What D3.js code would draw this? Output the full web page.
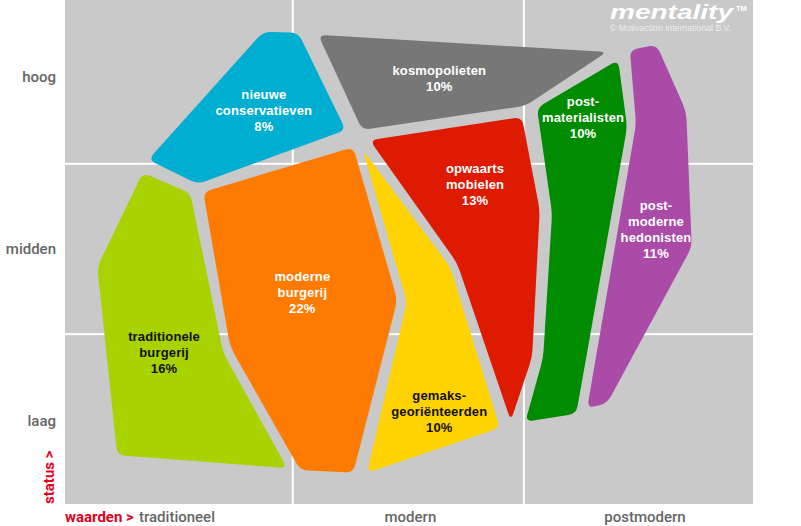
<!DOCTYPE html>
<html><head><meta charset="utf-8">
<script src="https://cdn.jsdelivr.net/npm/d3@7"></script>
<style>html,body{margin:0;padding:0;background:#fff;}svg{display:block;}</style>
</head><body>
<svg id="chart" width="801" height="526"></svg>
<script>
// ---- data (value axis 0-100: traditioneel -> postmodern; status axis 0-100: laag -> hoog)
const valueLabels = ["traditioneel", "modern", "postmodern"];
const statusLabels = ["laag", "midden", "hoog"];
const valueBreaks = [0, 33.1, 66.7, 100];
const statusBreaks = [0, 33.7, 67.5, 100];
const statusLabelPos = [16.4, 50.6, 84.7];
const valueLabelPos = [null, 50.2, 84.3];

const segmentNames = [
  "traditionele\nburgerij",
  "moderne\nburgerij",
  "nieuwe\nconservatieven",
  "kosmopolieten",
  "opwaarts\nmobielen",
  "gemaks-\ngeoriënteerden",
  "post-\nmaterialisten",
  "post-\nmoderne\nhedonisten"
];
const segmentShares = [16, 22, 8, 10, 13, 10, 10, 11];
const segmentShapes = [
  [[11.3,65.7],[18.2,61.7],[23.0,30.0],[32.3,7.1],[7.6,9.7],[4.7,47.0]],
  [[20.1,61.9],[41.9,70.8],[48.3,40.5],[41.9,6.2],[34.2,6.7],[24.0,31.2]],
  [[28.8,93.7],[33.9,93.5],[40.8,74.2],[19.3,63.5],[12.1,68.3]],
  [[36.8,93.1],[78.8,89.7],[66.9,79.0],[43.2,74.2]],
  [[44.3,72.2],[66.4,76.8],[69.0,58.3],[67.9,29.2],[64.8,16.5],[57.0,47.8]],
  [[43.3,70.2],[56.0,47.0],[63.2,15.1],[43.9,6.2],[49.7,40.1]],
  [[68.6,78.6],[80.4,88.1],[81.7,74.8],[74.3,17.9],[66.9,16.3],[69.5,29.0],[70.8,57.7]],
  [[82.1,90.1],[86.0,91.1],[90.3,77.8],[91.1,51.0],[78.8,20.0],[75.9,19.0],[83.0,75.4]]
];
const labelCenters = [
  [14.4,30.2],[34.5,42.1],[28.9,78.2],[54.4,84.6],[59.6,63.5],[54.4,18.5],[75.3,76.8],[85.9,54.6]
];
const segmentColors = ["#a8d200","#ff7b00","#00aed1","#777777","#de1a00","#ffd300","#008b00","#aa4ba8"];
const labelColors = ["#111","#fff","#fff","#fff","#fff","#111","#fff","#fff"];

// ---- drawing
const svg = d3.select("#chart");
const x = d3.scaleLinear().domain([0,100]).range([65,753]);
const y = d3.scaleLinear().domain([0,100]).range([504,0]);

// background panels
const cells = [];
for (let i=0;i<3;i++) for (let j=0;j<3;j++) cells.push({i,j});
svg.append("g").selectAll("rect").data(cells).join("rect")
  .attr("x", d => x(valueBreaks[d.i]) + (d.i>0?1:0))
  .attr("width", d => x(valueBreaks[d.i+1]) - x(valueBreaks[d.i]) - (d.i>0?1:0) - (d.i<2?1:0))
  .attr("y", d => y(statusBreaks[d.j+1]) + (d.j<2?1:0))
  .attr("height", d => y(statusBreaks[d.j]) - y(statusBreaks[d.j+1]) - (d.j<2?1:0) - (d.j>0?1:0))
  .attr("fill", "#c9c9c9");

function roundedPath(pts, r) {
  const n = pts.length; const p = d3.path();
  for (let i=0;i<n;i++){
    const p0 = pts[(i-1+n)%n], p1 = pts[i], p2 = pts[(i+1)%n];
    const v1 = [p0[0]-p1[0], p0[1]-p1[1]], v2 = [p2[0]-p1[0], p2[1]-p1[1]];
    const l1 = Math.hypot(v1[0],v1[1]), l2 = Math.hypot(v2[0],v2[1]);
    const rr = Math.min(r, l1/2.2, l2/2.2);
    const a = [p1[0]+v1[0]/l1*rr, p1[1]+v1[1]/l1*rr];
    const b = [p1[0]+v2[0]/l2*rr, p1[1]+v2[1]/l2*rr];
    if (i===0) p.moveTo(a[0],a[1]); else p.lineTo(a[0],a[1]);
    p.quadraticCurveTo(p1[0],p1[1],b[0],b[1]);
  }
  p.closePath();
  return p.toString();
}

svg.append("g").selectAll("path").data(segmentShapes).join("path")
  .attr("d", pts => roundedPath(pts.map(v => [x(v[0]), y(v[1])]), 8))
  .attr("fill", (d,i) => segmentColors[i]);

// segment labels
const lab = svg.append("g").attr("font-family","'Liberation Sans', Arial, sans-serif")
  .attr("font-weight","bold").attr("font-size","13px").attr("text-anchor","middle");
segmentNames.forEach((name,i) => {
  const lines = name.split("\n").concat([segmentShares[i] + "%"]);
  const cx = x(labelCenters[i][0]), cy = y(labelCenters[i][1]);
  const lh = 16;
  const t = lab.append("text").attr("fill", labelColors[i]).attr("letter-spacing","0.15px");
  lines.forEach((ln,k) => {
    t.append("tspan").attr("x", cx).attr("y", cy + (k - (lines.length-1)/2)*lh + 5).text(ln);
  });
});

// status axis labels
const axisFont = "Roboto, 'Open Sans', sans-serif";
svg.append("g").selectAll("text").data(statusLabels).join("text")
  .attr("x", 56).attr("y", (d,i) => y(statusLabelPos[i]) + 5)
  .attr("text-anchor","end").attr("font-family",axisFont).attr("font-weight",500)
  .attr("font-size","15px").attr("fill","#666").text(d => d);

// value axis labels
svg.append("text").attr("x", 65).attr("y", 522).attr("font-family",axisFont)
  .attr("font-weight",700).attr("font-size","15px").attr("fill","#e2001a").text("waarden >");
svg.append("g").selectAll("text").data(valueLabels).join("text")
  .attr("x", (d,i) => i===0 ? 139 : x(valueLabelPos[i]))
  .attr("y", 522)
  .attr("text-anchor", (d,i) => i===0 ? "start" : "middle")
  .attr("font-family",axisFont).attr("font-weight",500).attr("font-size","15px")
  .attr("fill","#666").text(d => d);

svg.append("text").attr("transform","translate(54,504) rotate(-90)")
  .attr("font-family",axisFont).attr("font-weight",700).attr("font-size","15px")
  .attr("fill","#e2001a").text("status >");

// logo
svg.append("text").attr("x", 610).attr("y", 19)
  .attr("font-family","'Liberation Sans', Arial, sans-serif").attr("font-weight","bold")
  .attr("font-style","italic").attr("font-size","21px")
  .attr("textLength", 123).attr("lengthAdjust","spacingAndGlyphs")
  .attr("fill","#fff").text("mentality");
svg.append("text").attr("x", 736).attr("y", 11)
  .attr("font-family","'Liberation Sans', Arial, sans-serif").attr("font-weight","bold")
  .attr("font-size","7.5px").attr("fill","#fff").text("TM");
svg.append("text").attr("x", 610).attr("y", 31)
  .attr("font-family","'Liberation Sans', Arial, sans-serif")
  .attr("font-size","8.7px").attr("fill","#eeeeee").text("© Motivaction International B.V.");
</script>
</body></html>
